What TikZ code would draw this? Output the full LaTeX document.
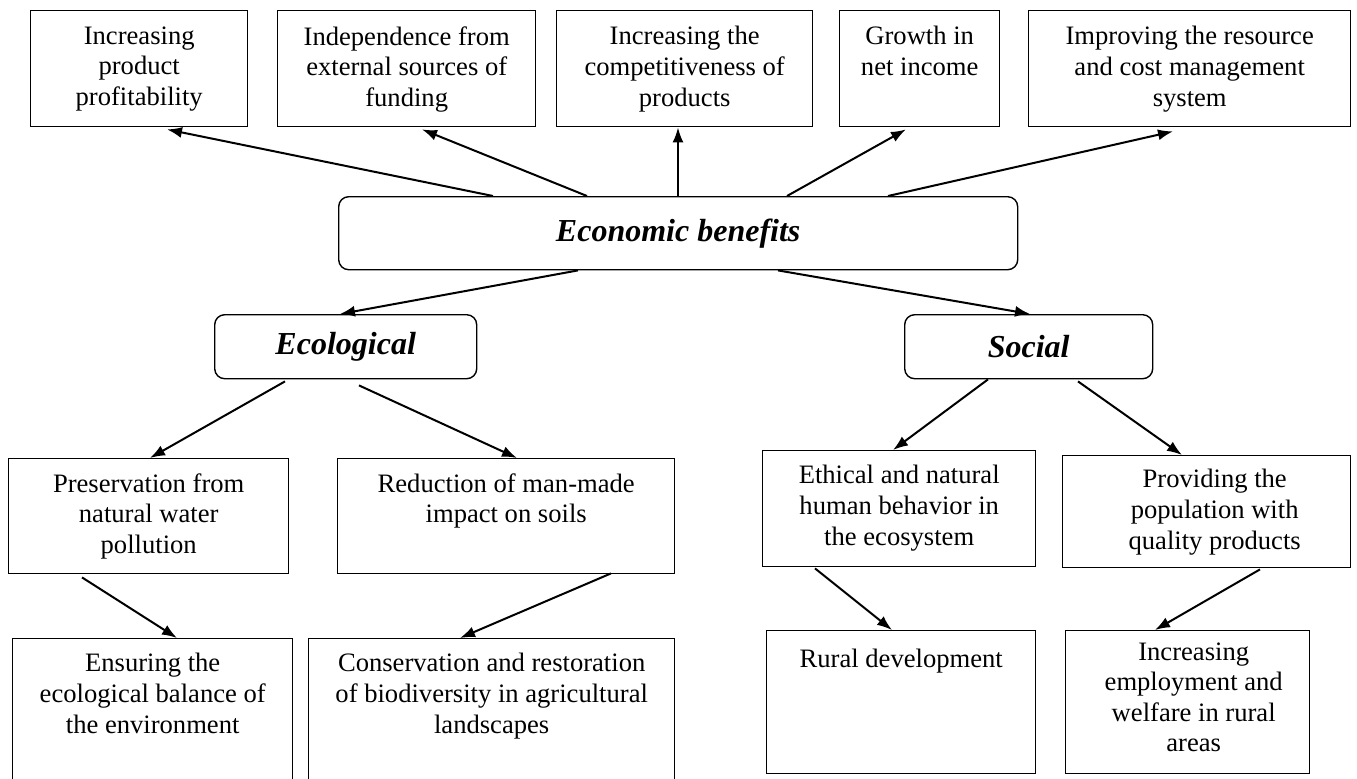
\documentclass[tikz,border=0pt]{standalone}
\usepackage{fontspec}
\setmainfont{Liberation Serif}
\usetikzlibrary{calc,arrows.meta}
\tikzset{
  plainbox/.style={draw, line width=0.7pt, inner sep=0pt, anchor=north west},
  headbox/.style={draw, line width=0.7pt, rounded corners=5pt, inner sep=0pt, anchor=north west,
    font=\bfseries\itshape\fontsize{16}{19}\selectfont},
  lbl/.style={anchor=north, align=center, inner sep=0pt,
    font=\fontsize{13.3}{15.3}\selectfont, execute at begin node=\strut},
  arr/.style={-{Latex[length=7.5pt,width=5.5pt]}, line width=1pt}
}
\begin{document}
\begin{tikzpicture}[x=0.5pt,y=-0.5pt]
  \path[use as bounding box, clip] (0,0) rectangle (1357,778);
  \node[plainbox, minimum width=108.5pt, minimum height=58pt] (prof) at (30,10) {};
  \node[plainbox, minimum width=129pt, minimum height=58pt] (indep) at (277,10) {};
  \node[plainbox, minimum width=128pt, minimum height=58pt] (compet) at (556,10) {};
  \node[plainbox, minimum width=80pt, minimum height=58pt] (income) at (839,10) {};
  \node[plainbox, minimum width=161pt, minimum height=58pt] (costs) at (1028,10) {};
  \node[lbl] (proftext) at ($(prof.north)+(0,16)$) {Increasing\\product\\profitability};
  \node[lbl] (indeptext) at ($(indep.north)+(0,16)$) {Independence from\\external sources of\\funding};
  \node[lbl] (compettext) at ($(compet.north)+(0,16)$) {Increasing the\\competitiveness of\\products};
  \node[lbl] (incometext) at ($(income.north)+(0,16)$) {Growth in\\net income};
  \node[lbl] (coststext) at ($(costs.north)+(0,16)$) {Improving the resource\\and cost management\\system};

  \node[headbox, minimum width=339.5pt, minimum height=36.5pt] (econ) at (338,196) {Economic benefits};
  \node[headbox, minimum width=131pt, minimum height=32pt] (ecol) at (214,314) {Ecological};
  \node[headbox, minimum width=124pt, minimum height=32pt] (soc) at (904,314) {Social};

  \node[plainbox, minimum width=140pt, minimum height=57.5pt] (water) at (8,458) {};
  \node[plainbox, minimum width=168.5pt, minimum height=57.5pt] (soils) at (337,458) {};
  \node[plainbox, minimum width=136.5pt, minimum height=58pt] (ethic) at (762,450) {};
  \node[plainbox, minimum width=144pt, minimum height=56pt] (quality) at (1062,455) {};
  \node[lbl] (watertext) at ($(water.north)+(0,15)$) {Preservation from\\natural water\\pollution};
  \node[lbl] (soilstext) at ($(soils.north)+(0,15)$) {Reduction of man-made\\impact on soils};
  \node[lbl] (ethictext) at ($(ethic.north)+(0,15)$) {Ethical and natural\\human behavior in\\the ecosystem};
  \node[lbl] (qualitytext) at ($(quality.north)+(8,14)$) {Providing the\\population with\\quality products};

  \node[plainbox, minimum width=140pt, minimum height=80pt] (balance) at (12,638) {};
  \node[plainbox, minimum width=183pt, minimum height=80pt] (biodiv) at (308,638) {};
  \node[plainbox, minimum width=134.5pt, minimum height=71.5pt] (rural) at (766,630) {};
  \node[plainbox, minimum width=122pt, minimum height=71.5pt] (employ) at (1065,630) {};
  \node[lbl] (balancetext) at ($(balance.north)+(0,15)$) {Ensuring the\\ecological balance of\\the environment};
  \node[lbl] (biodivtext) at ($(biodiv.north)+(0,15)$) {Conservation and restoration\\of biodiversity in agricultural\\landscapes};
  \node[lbl] (ruraltext) at ($(rural.north)+(0,16)$) {Rural development};
  \node[lbl] (employtext) at ($(employ.north)+(6,12)$) {Increasing\\employment and\\welfare in rural\\areas};

  \draw[arr] ($(econ.north west)+(155,0)$) -- ($(prof.south west)+(137,2)$);
  \draw[arr] ($(econ.north west)+(249,0)$) -- ($(indep.south west)+(145,2)$);
  \draw[arr] ($(econ.north west)+(340,0)$) -- ($(compet.south west)+(122,0)$);
  \draw[arr] ($(econ.north west)+(449,0)$) -- ($(income.south west)+(67,2)$);
  \draw[arr] ($(econ.north west)+(550,0)$) -- ($(costs.south west)+(145,4)$);
  \draw[arr] ($(econ.south west)+(240,0)$) -- ($(ecol.north west)+(126,0)$);
  \draw[arr] ($(econ.south west)+(440,0)$) -- ($(soc.north west)+(126,0)$);
  \draw[arr] ($(ecol.south west)+(71,2)$) -- ($(water.north west)+(142,0)$);
  \draw[arr] ($(ecol.south west)+(145,6)$) -- ($(soils.north west)+(180,0)$);
  \draw[arr] ($(soc.south west)+(84,0)$) -- ($(ethic.north west)+(131,0)$);
  \draw[arr] ($(soc.south west)+(174,2)$) -- ($(quality.north west)+(120,0)$);
  \draw[arr] ($(water.south west)+(74,3)$) -- ($(balance.north west)+(165,0)$);
  \draw[arr] ($(soils.south west)+(274,-1)$) -- ($(biodiv.north west)+(152,0)$);
  \draw[arr] ($(ethic.south west)+(53,1)$) -- ($(rural.north west)+(126,0)$);
  \draw[arr] ($(quality.south west)+(198,1)$) -- ($(employ.north west)+(90,0)$);
\end{tikzpicture}
\end{document}
